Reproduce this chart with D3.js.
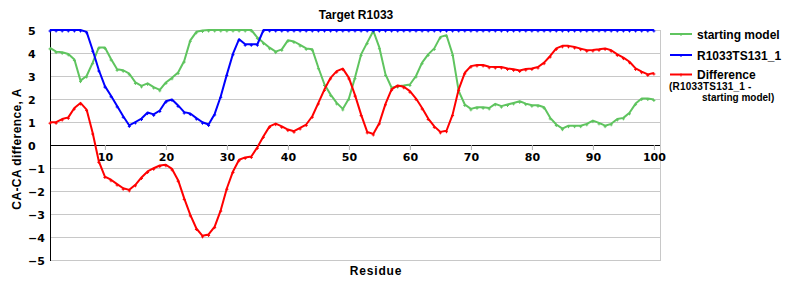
<!DOCTYPE html>
<html><head><meta charset="utf-8">
<script src="https://cdn.jsdelivr.net/npm/d3@7"></script>
<style>body{margin:0;background:#fff}svg{display:block}</style>
</head><body>
<svg id="c" width="800" height="300"></svg>
<script>
const residues = d3.range(1, 101);
const startingModel = [
 4.22,4.06,4.03,3.96,3.72,2.8,3.0,3.58,4.24,4.24,
 3.74,3.29,3.25,3.1,2.72,2.57,2.68,2.52,2.4,2.72,
 2.92,3.15,3.65,4.55,4.92,4.98,5,5,5,5,
 5,5,5,5,4.67,4.45,4.23,4.06,4.16,4.55,
 4.5,4.35,4.2,4.16,3.36,2.63,2.19,1.83,1.57,2.02,
 2.93,3.94,4.45,4.96,4.23,3.07,2.49,2.56,2.59,2.63,
 3.0,3.58,3.94,4.2,4.7,4.77,3.94,2.34,1.76,1.57,
 1.64,1.64,1.61,1.79,1.69,1.76,1.83,1.9,1.8,1.73,
 1.73,1.64,1.18,0.89,0.71,0.84,0.84,0.84,0.92,1.06,
 0.96,0.84,0.92,1.13,1.18,1.4,1.8,2.02,2.02,1.98];
const modelTS131 = [
 5,5,5,5,5,5,4.92,4.12,3.26,2.56,
 2.14,1.7,1.25,0.85,1.0,1.15,1.41,1.33,1.5,1.9,
 1.98,1.72,1.43,1.37,1.17,0.99,0.89,1.35,2.12,3.07,
 3.97,4.6,4.38,4.38,4.38,5,5,5,5,5,
 5,5,5,5,5,5,5,5,5,5,
 5,5,5,5,5,5,5,5,5,5,
 5,5,5,5,5,5,5,5,5,5,
 5,5,5,5,5,5,5,5,5,5,
 5,5,5,5,5,5,5,5,5,5,
 5,5,5,5,5,5,5,5,5,5];
const difference = [
 0.99,0.99,1.13,1.2,1.61,1.83,1.54,0.52,-0.71,-1.37,
 -1.51,-1.7,-1.88,-1.95,-1.73,-1.41,-1.15,-1.01,-0.89,-0.86,
 -1.04,-1.53,-2.32,-3.04,-3.63,-3.95,-3.89,-3.55,-2.83,-1.88,
 -1.15,-0.64,-0.54,-0.5,-0.1,0.38,0.81,0.93,0.81,0.67,
 0.6,0.74,0.89,1.25,1.83,2.42,2.92,3.21,3.32,2.92,
 2.17,1.32,0.57,0.48,0.96,1.79,2.42,2.59,2.53,2.34,
 2.02,1.61,1.15,0.81,0.57,0.62,1.32,2.42,3.14,3.43,
 3.48,3.48,3.4,3.39,3.39,3.33,3.29,3.24,3.3,3.33,
 3.39,3.58,3.87,4.2,4.31,4.31,4.26,4.19,4.12,4.13,
 4.16,4.2,4.12,3.94,3.8,3.62,3.33,3.19,3.07,3.13];
const xTicks = [10,20,30,40,50,60,70,80,90,100];
const yTicks = [-5,-4,-3,-2,-1,0,1,2,3,4,5];
const seriesNames = ["starting model", "R1033TS131_1", "Difference"];
const seriesColors = ["#5fc45f", "#0000ff", "#ff0000"];

const svg = d3.select("#c");
const x = d3.scaleLinear().domain([1, 101]).range([50, 660]);
const y = d3.scaleLinear().domain([-5, 5]).range([260, 30]);
const tickFont = "'DejaVu Sans', Verdana, sans-serif";
const labFont = "'Liberation Sans', Arial, sans-serif";

// grid
svg.append("g").selectAll("line").data(yTicks.filter(d => d !== 0)).join("line")
  .attr("x1", 50).attr("x2", 660).attr("y1", d => y(d) + 0.5).attr("y2", d => y(d) + 0.5)
  .attr("stroke", "#c8c8c8").attr("stroke-width", 1);
svg.append("line").attr("x1", 660.5).attr("x2", 660.5).attr("y1", y(5)).attr("y2", y(-5) + 1)
  .attr("stroke", "#c8c8c8");

// x axis at zero
const xAxis = d3.axisBottom(x).tickValues(xTicks).tickSize(5).tickFormat(d3.format("d"));
const gx = svg.append("g").attr("transform", `translate(0,${y(0)})`).call(xAxis);
gx.select(".domain").attr("d", `M50,0.5H660`).attr("stroke", "#000");
gx.selectAll(".tick line").attr("stroke", "#b0b0b0");
gx.selectAll(".tick text").attr("font-family", tickFont).attr("font-weight", "bold")
  .attr("font-size", 11).attr("fill", "#000").attr("y", 8);

// y axis
svg.append("line").attr("x1", 50.5).attr("x2", 50.5).attr("y1", y(5)).attr("y2", y(-5) + 1).attr("stroke", "#000");
svg.append("g").selectAll("text").data(yTicks).join("text")
  .attr("x", 28).attr("y", d => y(d) + 4.5)
  .attr("font-family", tickFont).attr("font-weight", "bold").attr("font-size", 11)
  .text(d => d < 0 ? "\u2212" + Math.abs(d) : d);

// series
const allSeries = [startingModel, modelTS131, difference];
const line = d3.line().x((d, i) => x(residues[i])).y(d => y(d));
allSeries.forEach((vals, k) => {
  const g = svg.append("g");
  g.append("path").attr("d", line(vals)).attr("fill", "none")
    .attr("stroke", seriesColors[k]).attr("stroke-width", 2).attr("stroke-linejoin", "round");
  g.selectAll("path.m").data(vals).join("path").attr("class", "m")
    .attr("d", (d, i) => { const cx = x(residues[i]), cy = y(d);
      return `M${cx - 1.5},${cy + 1}h3M${cx},${cy - 0.5}v3`; })
    .attr("stroke", seriesColors[k]).attr("stroke-width", 1).attr("fill", "none");
});

// title & axis labels
svg.append("text").attr("x", 356).attr("y", 19).attr("text-anchor", "middle")
  .attr("font-family", labFont).attr("font-weight", "bold").attr("font-size", 12).text("Target R1033");
svg.append("text").attr("x", 376).attr("y", 275).attr("text-anchor", "middle")
  .attr("font-family", labFont).attr("font-weight", "bold").attr("font-size", 12)
  .attr("letter-spacing", 0.8).text("Residue");
svg.append("text").attr("transform", "translate(21,149) rotate(-90)").attr("text-anchor", "middle")
  .attr("font-family", labFont).attr("font-weight", "bold").attr("font-size", 12)
  .attr("letter-spacing", 0.4).text("CA-CA difference, A");

// legend
const legY = [34, 55, 74.5];
seriesNames.forEach((n, k) => {
  svg.append("line").attr("x1", 670).attr("x2", 692).attr("y1", legY[k]).attr("y2", legY[k])
    .attr("stroke", seriesColors[k]).attr("stroke-width", 2);
  svg.append("line").attr("x1", 681).attr("x2", 681).attr("y1", legY[k] - 1).attr("y2", legY[k] + 2)
    .attr("stroke", seriesColors[k]).attr("stroke-width", 1);
  svg.append("text").attr("x", 697).attr("y", legY[k] + 4.5)
    .attr("font-family", labFont).attr("font-weight", "bold").attr("font-size", 12).text(n);
});
svg.append("text").attr("x", 669).attr("y", 90)
  .attr("font-family", labFont).attr("font-weight", "bold").attr("font-size", 10)
  .attr("letter-spacing", 0.2).text("(R1033TS131_1 -");
svg.append("text").attr("x", 702).attr("y", 101)
  .attr("font-family", labFont).attr("font-weight", "bold").attr("font-size", 10)
  .attr("letter-spacing", 0).text("starting model)");
</script>
</body></html>
